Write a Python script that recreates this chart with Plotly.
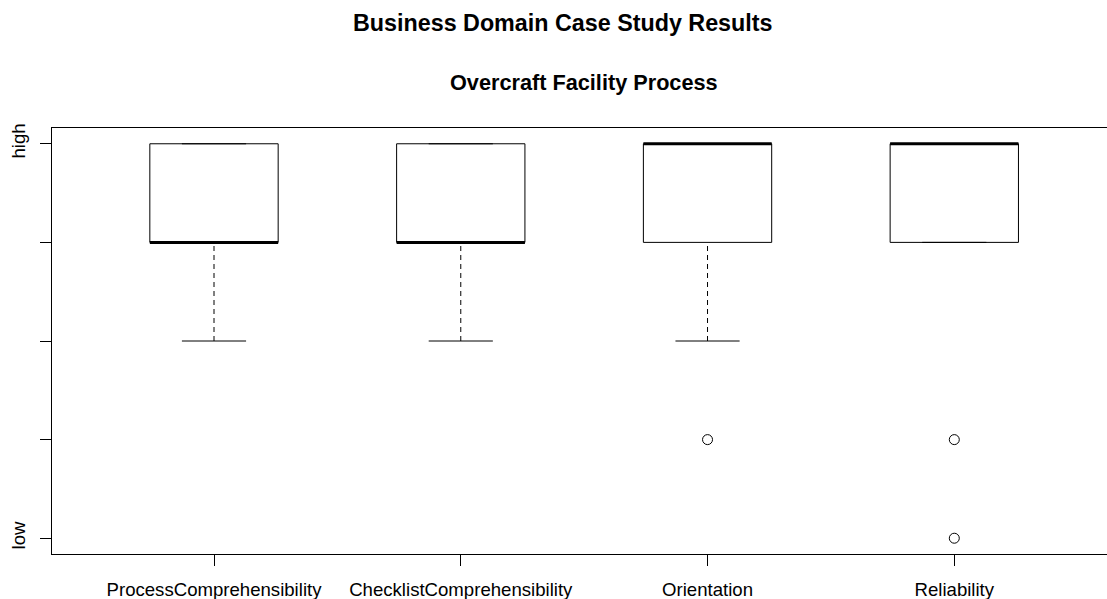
import plotly.graph_objects as go

# ---- data ----
categories = ["ProcessComprehensibility", "ChecklistComprehensibility", "Orientation", "Reliability"]
q1 = [4, 4, 4, 4]
medians = [4, 4, 5, 5]
q3 = [5, 5, 5, 5]
lower_whisker = [3, 3, 3, 4]
upper_whisker = [5, 5, 5, 5]
outliers = [[], [], [2], [2, 1]]
y_tick_values = [1, 2, 3, 4, 5]
y_tick_labels = ["low", "", "", "", "high"]
main_title = "Business Domain Case Study Results"
sub_title = "Overcraft Facility Process"

# ---- style ----
BOX_HALF = 0.26
CAP_HALF = 0.13
FONT = "Liberation Sans, Arial, Helvetica, sans-serif"
W, H = 1107, 599
ML, MR, MT, MB = 52, 0, 128, 45

fig = go.Figure()

for i, cat in enumerate(categories):
    xc = i + 1
    # box
    fig.add_trace(go.Scatter(
        x=[xc - BOX_HALF, xc + BOX_HALF, xc + BOX_HALF, xc - BOX_HALF, xc - BOX_HALF],
        y=[q1[i], q1[i], q3[i], q3[i], q1[i]],
        mode="lines", fill="toself", fillcolor="white",
        line=dict(color="black", width=1), hoverinfo="skip", showlegend=False))
    # whiskers (dashed)
    if lower_whisker[i] < q1[i]:
        fig.add_trace(go.Scatter(x=[xc, xc], y=[lower_whisker[i], q1[i]], mode="lines",
                                 line=dict(color="black", width=1, dash="5px,4px"),
                                 hoverinfo="skip", showlegend=False))
    if upper_whisker[i] > q3[i]:
        fig.add_trace(go.Scatter(x=[xc, xc], y=[q3[i], upper_whisker[i]], mode="lines",
                                 line=dict(color="black", width=1, dash="5px,4px"),
                                 hoverinfo="skip", showlegend=False))
    # staples
    for wv in (lower_whisker[i], upper_whisker[i]):
        fig.add_trace(go.Scatter(x=[xc - CAP_HALF, xc + CAP_HALF], y=[wv, wv], mode="lines",
                                 line=dict(color="black", width=1),
                                 hoverinfo="skip", showlegend=False))
    # median
    fig.add_trace(go.Scatter(x=[xc - BOX_HALF, xc + BOX_HALF], y=[medians[i], medians[i]],
                             mode="lines", line=dict(color="black", width=3),
                             hoverinfo="skip", showlegend=False))
    # outliers
    if outliers[i]:
        fig.add_trace(go.Scatter(x=[xc] * len(outliers[i]), y=outliers[i], mode="markers",
                                 marker=dict(symbol="circle-open", size=10,
                                             color="black", line=dict(width=1)),
                                 hoverinfo="skip", showlegend=False))

plot_w = W - ML - MR
plot_h = H - MT - MB

fig.update_layout(
    width=W, height=H,
    margin=dict(l=ML, r=MR, t=MT, b=MB),
    paper_bgcolor="white", plot_bgcolor="white",
    font=dict(family=FONT, size=18.6, color="black"),
    xaxis=dict(range=[0.3435, 4.6188], tickvals=[1, 2, 3, 4], ticktext=categories,
               showgrid=False, zeroline=False, showline=True, linecolor="black",
               linewidth=1, mirror=True, ticks="outside", ticklen=11, tickcolor="black",
               ticklabelstandoff=8, tickfont=dict(size=18.6)),
    yaxis=dict(range=[0.84, 5.16], tickvals=y_tick_values, ticktext=y_tick_labels,
               showgrid=False, zeroline=False, showline=True, linecolor="black",
               linewidth=1, ticks="outside", ticklen=11, tickcolor="black",
               ticklabelstandoff=8, tickangle=-90, tickfont=dict(size=18.6)),
    annotations=[
        dict(text="<b>" + main_title + "</b>", xref="paper", yref="paper",
             x=(562 - ML) / plot_w, y=(H - MB - 23) / plot_h,
             xanchor="center", yanchor="middle", showarrow=False,
             font=dict(family=FONT, size=23.3)),
        dict(text="<b>" + sub_title + "</b>", xref="paper", yref="paper",
             x=(584 - ML) / plot_w, y=(H - MB - 82.5) / plot_h,
             xanchor="center", yanchor="middle", showarrow=False,
             font=dict(family=FONT, size=21.7)),
    ],
)

fig.write_html("out.html")
